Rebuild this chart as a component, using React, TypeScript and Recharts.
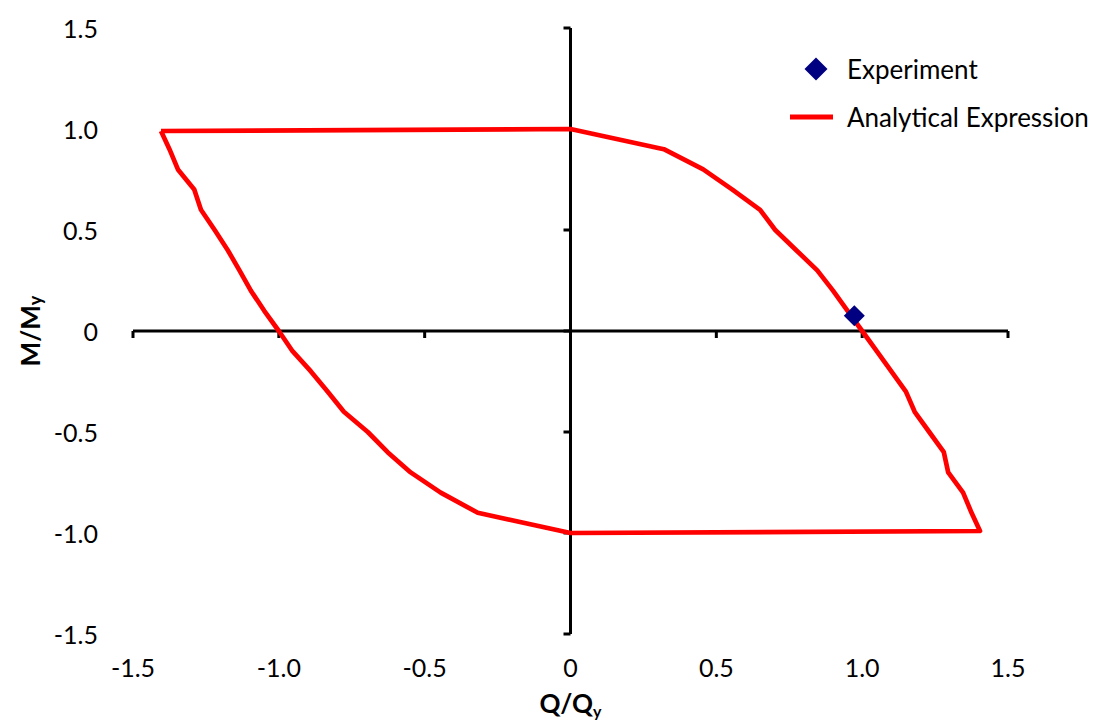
import React from 'react';
import {
  ScatterChart,
  Scatter,
  XAxis,
  YAxis,
  ReferenceLine,
  ReferenceDot,
  Legend,
  Label,
} from 'recharts';

// Analytical interaction loop: Q/Qy (shear) vs M/My (moment), traced in order
const loopQ = [
  -1.404, 0, 0.32, 0.455, 0.555, 0.65, 0.702, 0.774, 0.846, 0.9, 0.95, 1.0,
  1.05, 1.1, 1.15, 1.18, 1.23, 1.28, 1.295, 1.346, 1.375, 1.404,
  0, -0.318, -0.445, -0.548, -0.627, -0.695, -0.777, -0.833, -0.89, -0.953, -1.0,
  -1.05, -1.096, -1.135, -1.175, -1.22, -1.267, -1.29, -1.346, -1.375, -1.404,
];
const loopM = [
  0.99, 1.0, 0.9, 0.8, 0.7, 0.6, 0.5, 0.4, 0.3, 0.2, 0.1, 0.0,
  -0.1, -0.2, -0.3, -0.4, -0.5, -0.6, -0.7, -0.8, -0.9, -0.99,
  -1.0, -0.9, -0.8, -0.7, -0.6, -0.5, -0.4, -0.3, -0.2, -0.1, 0.0,
  0.1, 0.2, 0.3, 0.4, 0.5, 0.6, 0.7, 0.8, 0.9, 0.99,
];

// Test result
const experimentQ = [0.973];
const experimentM = [0.075];

// Axis ticks and their printed labels
const axisTicks = [-1.5, -1.0, -0.5, 0, 0.5, 1.0, 1.5];
const xTickLabels = ['-1.5', '-1.0', '-0.5', '0', '0.5', '1.0', '1.5'];
const yTickLabels = ['-1.5', '-1.0', '-0.5', '0', '0.5', '1.0', '1.5'];

const legendLabels = ['Experiment', 'Analytical Expression'];

const loopData = loopQ.map((q, i) => ({ q, m: loopM[i] }));
const experimentData = experimentQ.map((q, i) => ({ q, m: experimentM[i] }));

const FONT = 'Lato, "Open Sans", sans-serif';
const LOOP_RED = '#ff0000';
const NAVY = '#000080';

const labelFor = (labels: string[], v: number) => {
  const idx = axisTicks.findIndex((t) => Math.abs(t - v) < 1e-9);
  return idx >= 0 ? labels[idx] : String(v);
};

const XTick = (props: any) => {
  const { x, y, payload } = props;
  return (
    <text
      x={x}
      y={y}
      textAnchor="middle"
      dominantBaseline="central"
      fontFamily={FONT}
      fontSize={25}
      fill="#000"
    >
      {labelFor(xTickLabels, payload.value)}
    </text>
  );
};

const YTick = (props: any) => {
  const { x, y, payload } = props;
  return (
    <text
      x={x}
      y={y}
      textAnchor="end"
      dominantBaseline="central"
      fontFamily={FONT}
      fontSize={25}
      fill="#000"
    >
      {labelFor(yTickLabels, payload.value)}
    </text>
  );
};

// Tick marks on the axes that cross at the origin
const DownTick = (p: any) => (
  <line x1={p.cx} y1={p.cy} x2={p.cx} y2={p.cy + 7} stroke="#000" strokeWidth={3} />
);
const LeftTick = (p: any) => (
  <line x1={p.cx} y1={p.cy} x2={p.cx - 7} y2={p.cy} stroke="#000" strokeWidth={3} />
);

const Diamond = (p: any) => {
  const { cx, cy } = p;
  const h = 10.5;
  return (
    <polygon
      points={`${cx},${cy - h} ${cx + h},${cy} ${cx},${cy + h} ${cx - h},${cy}`}
      fill={NAVY}
    />
  );
};

const NoShape = () => <g />;

const XTitle = (props: any) => {
  const vb = props.viewBox || {};
  const cx = vb.x + vb.width / 2;
  const by = vb.y + 79;
  return (
    <text
      x={cx}
      y={by}
      textAnchor="middle"
      fontFamily={FONT}
      fontWeight="bold"
      fontSize={26}
      fill="#000"
    >
      Q/Q
      <tspan dy={4} fontSize={16}>
        y
      </tspan>
    </text>
  );
};

const YTitle = (props: any) => {
  const vb = props.viewBox || {};
  const cx = vb.x + 30;
  const cy = vb.y + vb.height / 2;
  return (
    <text
      x={cx}
      y={cy}
      transform={`rotate(-90 ${cx} ${cy})`}
      textAnchor="middle"
      dominantBaseline="central"
      fontFamily={FONT}
      fontWeight="bold"
      fontSize={26}
      fill="#000"
    >
      M/M
      <tspan dy="0.3em" fontSize={18}>
        y
      </tspan>
    </text>
  );
};

const LegendContent = () => (
  <div style={{ fontFamily: FONT, fontSize: 26, color: '#000' }}>
    <div style={{ display: 'flex', alignItems: 'center', height: 48 }}>
      <svg width={59} height={48} style={{ display: 'block' }}>
        <polygon points="28,12.5 39.5,24 28,35.5 16.5,24" fill={NAVY} />
      </svg>
      <span style={{ whiteSpace: 'nowrap' }}>{legendLabels[0]}</span>
    </div>
    <div style={{ display: 'flex', alignItems: 'center', height: 48 }}>
      <svg width={59} height={48} style={{ display: 'block' }}>
        <line x1={2} y1={24} x2={45} y2={24} stroke={LOOP_RED} strokeWidth={5} />
      </svg>
      <span style={{ whiteSpace: 'nowrap' }}>{legendLabels[1]}</span>
    </div>
  </div>
);

export default function App() {
  return (
    <div style={{ position: 'absolute', left: 0, top: 0, background: '#fff' }}>
      <ScatterChart
        width={1094}
        height={722}
        margin={{ top: 28, right: 86, bottom: 0, left: 0 }}
      >
        <XAxis
          type="number"
          dataKey="q"
          domain={[-1.5, 1.5]}
          ticks={axisTicks}
          allowDataOverflow
          height={88}
          axisLine={false}
          tickLine={false}
          tickSize={0}
          tickMargin={33}
          tick={XTick}
          interval={0}
        >
          <Label content={XTitle} />
        </XAxis>
        <YAxis
          type="number"
          dataKey="m"
          domain={[-1.5, 1.5]}
          ticks={axisTicks}
          allowDataOverflow
          width={133}
          axisLine={false}
          tickLine={false}
          tickSize={0}
          tickMargin={35}
          tick={YTick}
          interval={0}
        >
          <Label content={YTitle} />
        </YAxis>

        <ReferenceLine y={0} stroke="#000" strokeWidth={3} />
        <ReferenceLine x={0} stroke="#000" strokeWidth={3} />
        {axisTicks.map((t) => (
          <ReferenceDot key={`xt${t}`} x={t} y={0} ifOverflow="visible" shape={DownTick} />
        ))}
        {axisTicks.map((t) => (
          <ReferenceDot key={`yt${t}`} x={0} y={t} ifOverflow="visible" shape={LeftTick} />
        ))}

        <Scatter
          name={legendLabels[1]}
          data={loopData}
          line={{ stroke: LOOP_RED, strokeWidth: 4.7, strokeLinejoin: 'round' }}
          lineType="joint"
          shape={NoShape}
          fill={LOOP_RED}
          isAnimationActive={false}
        />
        <Scatter
          name={legendLabels[0]}
          data={experimentData}
          shape={Diamond}
          fill={NAVY}
          isAnimationActive={false}
        />

        <Legend
          layout="horizontal"
          verticalAlign="middle"
          content={LegendContent}
          wrapperStyle={{ left: 788, top: 45, width: 306 }}
        />
      </ScatterChart>
    </div>
  );
}
